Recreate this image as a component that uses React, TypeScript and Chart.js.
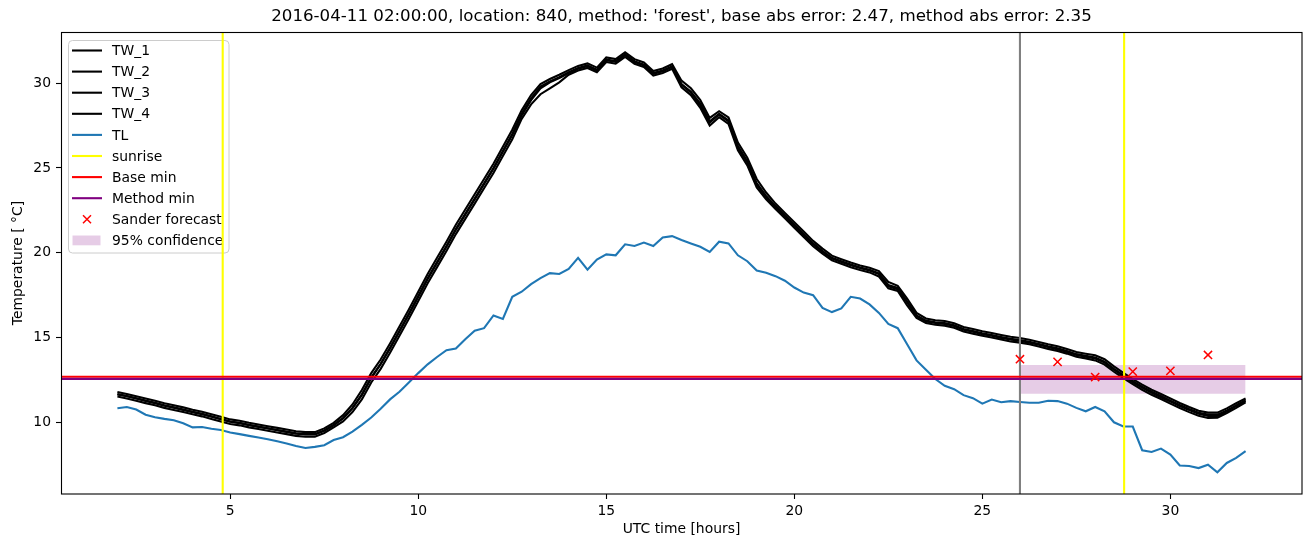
import React, { useEffect, useRef } from "react";
import { Chart, registerables } from "chart.js";

Chart.register(...registerables);

// ---- data ----
const hours = [
  2, 2.25, 2.5, 2.75, 3, 3.25, 3.5, 3.75,
  4, 4.25, 4.5, 4.75, 5, 5.25, 5.5, 5.75,
  6, 6.25, 6.5, 6.75, 7, 7.25, 7.5, 7.75,
  8, 8.25, 8.5, 8.75, 9, 9.25, 9.5, 9.75,
  10, 10.25, 10.5, 10.75, 11, 11.25, 11.5, 11.75,
  12, 12.25, 12.5, 12.75, 13, 13.25, 13.5, 13.75,
  14, 14.25, 14.5, 14.75, 15, 15.25, 15.5, 15.75,
  16, 16.25, 16.5, 16.75, 17, 17.25, 17.5, 17.75,
  18, 18.25, 18.5, 18.75, 19, 19.25, 19.5, 19.75,
  20, 20.25, 20.5, 20.75, 21, 21.25, 21.5, 21.75,
  22, 22.25, 22.5, 22.75, 23, 23.25, 23.5, 23.75,
  24, 24.25, 24.5, 24.75, 25, 25.25, 25.5, 25.75,
  26, 26.25, 26.5, 26.75, 27, 27.25, 27.5, 27.75,
  28, 28.25, 28.5, 28.75, 29, 29.25, 29.5, 29.75,
  30, 30.25, 30.5, 30.75, 31, 31.25, 31.5, 31.75,
  32,
];

const TW_1 = [
  11.67, 11.55, 11.42, 11.28, 11.15, 11.0, 10.88, 10.76,
  10.62, 10.5, 10.35, 10.2, 10.05, 9.97, 9.85, 9.75,
  9.65, 9.55, 9.45, 9.35, 9.3, 9.3, 9.52, 9.85,
  10.25, 10.85, 11.65, 12.65, 13.45, 14.4, 15.4, 16.4,
  17.45, 18.5, 19.45, 20.4, 21.4, 22.3, 23.2, 24.1,
  25.0, 26.0, 27.0, 28.2, 29.1, 29.8, 30.1, 30.35,
  30.65, 30.9, 31.05, 30.8, 31.4, 31.3, 31.7, 31.3,
  31.1, 30.6, 30.75, 31.0, 29.95, 29.5, 28.8, 27.75,
  28.2, 27.8, 26.3, 25.4, 24.1, 23.35, 22.75, 22.2,
  21.65, 21.1, 20.55, 20.1, 19.7, 19.5, 19.3, 19.13,
  18.99, 18.78, 18.1, 17.92, 17.1, 16.3, 16.0, 15.9,
  15.85, 15.72, 15.5, 15.38, 15.25, 15.15, 15.03, 14.92,
  14.85, 14.75, 14.62, 14.48, 14.36, 14.2, 14.02, 13.92,
  13.82, 13.58, 13.15, 12.78, 12.42, 12.1, 11.8, 11.55,
  11.28, 11.02, 10.78, 10.56, 10.45, 10.45, 10.7, 11.0,
  11.3,
];

const TW_2 = [
  11.52, 11.4, 11.27, 11.13, 11.0, 10.85, 10.73, 10.61,
  10.47, 10.35, 10.2, 10.05, 9.9, 9.82, 9.7, 9.6,
  9.5, 9.4, 9.3, 9.2, 9.15, 9.15, 9.37, 9.7,
  10.05, 10.6, 11.35, 12.35, 13.15, 14.1, 15.1, 16.1,
  17.15, 18.2, 19.15, 20.1, 21.1, 22.0, 22.9, 23.8,
  24.7, 25.7, 26.7, 27.9, 28.75, 29.35, 29.7, 30.05,
  30.5, 30.75, 30.9, 30.65, 31.25, 31.15, 31.55, 31.15,
  30.95, 30.45, 30.6, 30.85, 29.75, 29.3, 28.55, 27.5,
  28.0, 27.6, 26.05, 25.15, 23.85, 23.15, 22.58, 22.03,
  21.48, 20.93, 20.38, 19.94, 19.55, 19.35, 19.15, 18.98,
  18.84, 18.6, 17.9, 17.75, 16.9, 16.15, 15.85, 15.75,
  15.7, 15.57, 15.35, 15.23, 15.1, 15.0, 14.88, 14.77,
  14.7, 14.6, 14.47, 14.33, 14.21, 14.05, 13.87, 13.77,
  13.65, 13.4, 12.98, 12.6, 12.25, 11.92, 11.62, 11.37,
  11.1, 10.84, 10.6, 10.38, 10.25, 10.27, 10.55, 10.85,
  11.18,
];

const TW_3 = [
  11.79, 11.67, 11.54, 11.4, 11.27, 11.12, 11.0, 10.88,
  10.74, 10.62, 10.47, 10.32, 10.17, 10.09, 9.97, 9.87,
  9.77, 9.67, 9.57, 9.47, 9.42, 9.42, 9.64, 9.97,
  10.42, 11.05, 11.9, 12.9, 13.7, 14.65, 15.65, 16.65,
  17.7, 18.75, 19.7, 20.65, 21.65, 22.55, 23.45, 24.35,
  25.25, 26.25, 27.25, 28.4, 29.3, 29.95, 30.25, 30.5,
  30.77, 31.02, 31.17, 30.92, 31.52, 31.42, 31.82, 31.42,
  31.22, 30.72, 30.87, 31.12, 30.15, 29.7, 29.0, 27.95,
  28.35, 27.98, 26.5, 25.6, 24.35, 23.55, 22.9, 22.35,
  21.8, 21.25, 20.7, 20.24, 19.83, 19.62, 19.42, 19.25,
  19.11, 18.92, 18.28, 18.05, 17.3, 16.45, 16.12, 16.02,
  15.97, 15.84, 15.62, 15.5, 15.37, 15.27, 15.15, 15.04,
  14.97, 14.87, 14.74, 14.6, 14.48, 14.32, 14.14, 14.04,
  13.95, 13.72, 13.3, 12.92, 12.55, 12.22, 11.92, 11.67,
  11.4, 11.14, 10.9, 10.68, 10.57, 10.57, 10.82, 11.12,
  11.4,
];

const TW_4 = [
  11.64, 11.53, 11.4, 11.26, 11.12, 10.98, 10.86, 10.73,
  10.6, 10.47, 10.33, 10.18, 10.03, 9.94, 9.83, 9.73,
  9.63, 9.53, 9.43, 9.33, 9.28, 9.28, 9.5, 9.82,
  10.22, 10.82, 11.6, 12.6, 13.42, 14.36, 15.36, 16.36,
  17.4, 18.45, 19.4, 20.35, 21.35, 22.25, 23.15, 24.05,
  24.95, 25.95, 26.95, 28.1, 29.0, 29.7, 30.05, 30.3,
  30.6, 30.85, 31.0, 30.75, 31.35, 31.25, 31.65, 31.25,
  31.05, 30.55, 30.7, 30.95, 29.9, 29.45, 28.7, 27.68,
  28.15, 27.75, 26.2, 25.32, 24.02, 23.27, 22.7, 22.15,
  21.6, 21.05, 20.5, 20.05, 19.65, 19.46, 19.26, 19.1,
  18.95, 18.74, 18.02, 17.85, 17.1, 16.25, 15.95, 15.86,
  15.8, 15.68, 15.46, 15.34, 15.2, 15.1, 14.98, 14.88,
  14.8, 14.7, 14.58, 14.44, 14.3, 14.15, 13.97, 13.87,
  13.76, 13.52, 13.1, 12.72, 12.36, 12.04, 11.74, 11.48,
  11.22, 10.96, 10.72, 10.5, 10.38, 10.38, 10.64, 10.95,
  11.25,
];

const TL = [
  10.83, 10.9, 10.75, 10.45, 10.3, 10.2, 10.12, 9.94,
  9.7, 9.72, 9.62, 9.55, 9.4, 9.3, 9.2, 9.1,
  9.0, 8.88, 8.75, 8.6, 8.48, 8.55, 8.65, 8.95,
  9.12, 9.45, 9.85, 10.28, 10.8, 11.35, 11.8, 12.35,
  12.9, 13.42, 13.85, 14.25, 14.35, 14.9, 15.4, 15.55,
  16.3, 16.1, 17.4, 17.7, 18.15, 18.5, 18.8, 18.75,
  19.05, 19.7, 19.0, 19.6, 19.9, 19.85, 20.5, 20.4,
  20.6, 20.4, 20.9, 20.98, 20.75, 20.55, 20.35, 20.05,
  20.65, 20.55, 19.85, 19.5, 18.95, 18.82, 18.62, 18.35,
  17.95, 17.65, 17.5, 16.75, 16.5, 16.72, 17.4, 17.3,
  16.95, 16.45, 15.8, 15.55, 14.6, 13.65, 13.1, 12.55,
  12.15, 11.95, 11.6, 11.42, 11.1, 11.34, 11.18, 11.25,
  11.2, 11.15, 11.15, 11.27, 11.25, 11.1, 10.85, 10.65,
  10.9, 10.65, 10.0, 9.75, 9.75, 8.35, 8.25, 8.45,
  8.1, 7.45, 7.42, 7.3, 7.5, 7.05, 7.6, 7.9,
  8.3,
];

const sunriseHours = [4.8, 28.77];
const forecastStartHour = 26;
const baseMin = 12.69;
const methodMin = 12.56;
const forecastHours = [26, 27, 28, 29, 30, 31];
const forecastValues = [13.72, 13.56, 12.67, 12.99, 13.03, 13.97];
const confidenceHours = [26, 32];
const confidenceLow = 11.69;
const confidenceHigh = 13.38;

const xTickValues = [5, 10, 15, 20, 25, 30];
const yTickValues = [10, 15, 20, 25, 30];

const titleText =
  "2016-04-11 02:00:00, location: 840, method: 'forest', base abs error: 2.47, method abs error: 2.35";
const xLabel = "UTC time [hours]";
const yLabel = "Temperature [ °C]";

const FONT = "'DejaVu Sans', 'Liberation Sans', sans-serif";

const C_TL = "#1f77b4";
const C_BAND = "rgba(128,0,128,0.2)";

export default function App() {
  const ref = useRef<HTMLCanvasElement>(null);

  useEffect(() => {
    document.body.style.margin = "0";
    const canvas = ref.current;
    if (!canvas) return;

    const series = (ys: number[]) => hours.map((h, i) => ({ x: h, y: ys[i] }));
    const vline = (x: number) => [
      { x, y: -100 },
      { x, y: 100 },
    ];
    const hline = (y: number) => [
      { x: -100, y },
      { x: 100, y },
    ];

    const lineDs = (label: string, data: any[], color: string, order: number, width = 2.1) => ({
      label,
      data,
      borderColor: color,
      backgroundColor: color,
      borderWidth: width,
      pointRadius: 0,
      tension: 0,
      fill: false,
      order,
    });

    const legendItems = [
      { label: "TW_1", kind: "line", color: "#000000" },
      { label: "TW_2", kind: "line", color: "#000000" },
      { label: "TW_3", kind: "line", color: "#000000" },
      { label: "TW_4", kind: "line", color: "#000000" },
      { label: "TL", kind: "line", color: C_TL },
      { label: "sunrise", kind: "line", color: "#ffff00" },
      { label: "Base min", kind: "line", color: "#ff0000" },
      { label: "Method min", kind: "line", color: "#800080" },
      { label: "Sander forecast", kind: "marker", color: "#ff0000" },
      { label: "95% confidence", kind: "patch", color: C_BAND },
    ];

    const drawX = (ctx: CanvasRenderingContext2D, cx: number, cy: number, h: number) => {
      ctx.beginPath();
      ctx.moveTo(cx - h, cy - h);
      ctx.lineTo(cx + h, cy + h);
      ctx.moveTo(cx - h, cy + h);
      ctx.lineTo(cx + h, cy - h);
      ctx.stroke();
    };

    const decor = {
      id: "decor",
      beforeDatasetsDraw(chart: any) {
        const ctx: CanvasRenderingContext2D = chart.ctx;
        ctx.save();
        const x0 = 68.5, y0 = 40.5, w = 160.5, h = 212.5, r = 4;
        ctx.beginPath();
        ctx.moveTo(x0 + r, y0);
        ctx.lineTo(x0 + w - r, y0);
        ctx.arcTo(x0 + w, y0, x0 + w, y0 + r, r);
        ctx.lineTo(x0 + w, y0 + h - r);
        ctx.arcTo(x0 + w, y0 + h, x0 + w - r, y0 + h, r);
        ctx.lineTo(x0 + r, y0 + h);
        ctx.arcTo(x0, y0 + h, x0, y0 + h - r, r);
        ctx.lineTo(x0, y0 + r);
        ctx.arcTo(x0, y0, x0 + r, y0, r);
        ctx.closePath();
        ctx.fillStyle = "rgba(255,255,255,0.8)";
        ctx.fill();
        ctx.strokeStyle = "#cccccc";
        ctx.lineWidth = 1;
        ctx.stroke();

        ctx.font = `13.9px ${FONT}`;
        ctx.textBaseline = "middle";
        ctx.textAlign = "left";
        legendItems.forEach((it, i) => {
          const y = 50.5 + i * 21.1;
          if (it.kind === "line") {
            ctx.strokeStyle = it.color;
            ctx.lineWidth = 2.1;
            ctx.beginPath();
            ctx.moveTo(72, y);
            ctx.lineTo(102, y);
            ctx.stroke();
          } else if (it.kind === "marker") {
            ctx.strokeStyle = it.color;
            ctx.lineWidth = 1.5;
            drawX(ctx, 87, y, 4);
          } else {
            ctx.fillStyle = it.color;
            ctx.fillRect(72.5, y - 4.9, 28, 9.8);
          }
          ctx.fillStyle = "#000000";
          ctx.fillText(it.label, 112, y + 1);
        });
        ctx.restore();
      },
      afterDatasetsDraw(chart: any) {
        const ctx: CanvasRenderingContext2D = chart.ctx;
        const a = chart.chartArea;
        ctx.save();
        ctx.strokeStyle = "#000000";
        ctx.lineWidth = 1.1;
        ctx.strokeRect(a.left + 0.5, a.top + 0.5, a.right - a.left - 0.5, a.bottom - a.top - 0.5);
        ctx.restore();
      },
      afterDraw(chart: any) {
        const ctx: CanvasRenderingContext2D = chart.ctx;
        const a = chart.chartArea;
        const cx = (a.left + a.right) / 2;
        ctx.save();
        ctx.fillStyle = "#000000";
        ctx.textAlign = "center";
        ctx.textBaseline = "middle";
        ctx.font = `16.67px ${FONT}`;
        ctx.fillText(titleText, cx, 17);
        ctx.font = `13.9px ${FONT}`;
        ctx.fillText(xLabel, cx, 529);
        ctx.translate(18, (a.top + a.bottom) / 2);
        ctx.rotate(-Math.PI / 2);
        ctx.fillText(yLabel, 0, 0);
        ctx.restore();
      },
    };

    const tickFont = { family: FONT, size: 13.9 };

    const chart = new Chart(canvas, {
      type: "line",
      data: {
        datasets: [
          {
            label: "conf_low",
            data: confidenceHours.map((x) => ({ x, y: confidenceLow })),
            borderWidth: 0,
            borderColor: "rgba(0,0,0,0)",
            pointRadius: 0,
            fill: false,
            order: 100,
          },
          {
            label: "95% confidence",
            data: confidenceHours.map((x) => ({ x, y: confidenceHigh })),
            borderWidth: 0,
            borderColor: "rgba(0,0,0,0)",
            backgroundColor: C_BAND,
            pointRadius: 0,
            fill: "-1",
            order: 99,
          },
          lineDs("TW_1", series(TW_1), "#000000", 20),
          lineDs("TW_2", series(TW_2), "#000000", 19),
          lineDs("TW_3", series(TW_3), "#000000", 18),
          lineDs("TW_4", series(TW_4), "#000000", 17),
          lineDs("TL", series(TL), C_TL, 16),
          lineDs("sunrise", vline(sunriseHours[0]), "#ffff00", 15),
          lineDs("sunrise2", vline(sunriseHours[1]), "#ffff00", 14),
          lineDs("forecast start", vline(forecastStartHour), "#808080", 13),
          lineDs("Base min", hline(baseMin), "#ff0000", 12),
          lineDs("Method min", hline(methodMin), "#800080", 11),
          {
            label: "Sander forecast",
            data: forecastHours.map((x, i) => ({ x, y: forecastValues[i] })),
            showLine: false,
            pointStyle: "crossRot",
            pointRadius: 5.8,
            pointBorderWidth: 1.5,
            pointBorderColor: "#ff0000",
            pointBackgroundColor: "#ff0000",
            borderColor: "#ff0000",
            order: 1,
          },
        ] as any,
      },
      options: {
        responsive: false,
        animation: false,
        events: [],
        layout: { padding: { left: 0, right: 8, top: 32, bottom: 0 } },
        plugins: {
          legend: { display: false },
          tooltip: { enabled: false },
          title: { display: false },
        },
        scales: {
          x: {
            type: "linear",
            min: 0.5,
            max: 33.5,
            afterFit: (s: any) => {
              s.height = 53;
            },
            afterBuildTicks: (s: any) => {
              s.ticks = xTickValues.map((v) => ({ value: v }));
            },
            grid: {
              drawOnChartArea: false,
              drawTicks: true,
              tickLength: 5,
              tickColor: "#000000",
              tickWidth: 1.1,
            },
            border: { display: false },
            ticks: {
              color: "#000000",
              font: tickFont,
              padding: 4,
              maxRotation: 0,
              autoSkip: false,
            },
          },
          y: {
            type: "linear",
            min: 5.77,
            max: 33.02,
            afterFit: (s: any) => {
              s.width = 61;
            },
            afterBuildTicks: (s: any) => {
              s.ticks = yTickValues.map((v) => ({ value: v }));
            },
            grid: {
              drawOnChartArea: false,
              drawTicks: true,
              tickLength: 5,
              tickColor: "#000000",
              tickWidth: 1.1,
            },
            border: { display: false },
            ticks: {
              color: "#000000",
              font: tickFont,
              padding: 5,
              autoSkip: false,
            },
          },
        },
      } as any,
      plugins: [decor],
    });

    return () => chart.destroy();
  }, []);

  return (
    <div
      style={{
        position: "absolute",
        left: 0,
        top: 0,
        width: 1310,
        height: 547,
        background: "#ffffff",
      }}
    >
      <canvas ref={ref} width={1310} height={547} style={{ display: "block" }} />
    </div>
  );
}
